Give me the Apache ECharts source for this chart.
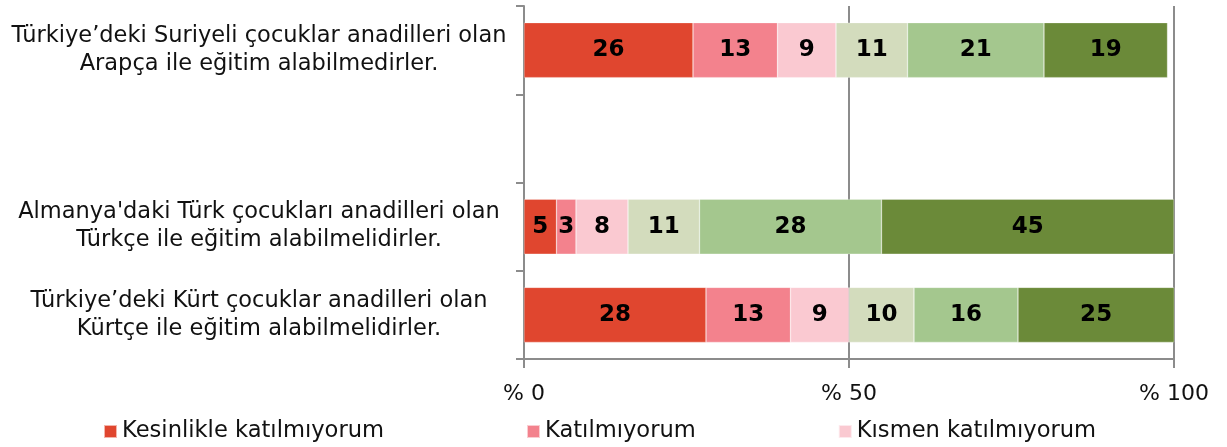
<!DOCTYPE html>
<html>
<head>
<meta charset="utf-8">
<script src="https://cdn.jsdelivr.net/npm/echarts@6/dist/echarts.min.js"></script>
<style>
  html, body { margin: 0; padding: 0; background: #fff; }
  #chart { width: 1227px; height: 447px; }
</style>
</head>
<body>
<div id="chart"></div>
<script>
// Statements (top to bottom); the empty slot leaves a gap between the first two bars
const categories = [
  'Türkiye\u2019deki Suriyeli çocuklar anadilleri olan\nArapça ile eğitim alabilmedirler.',
  '',
  'Almanya\'daki Türk çocukları anadilleri olan\nTürkçe ile eğitim alabilmelidirler.',
  'Türkiye\u2019deki Kürt çocuklar anadilleri olan\nKürtçe ile eğitim alabilmelidirler.'
];

// Response categories and their percentages per statement
const kesinlikleKatilmiyorum = [26, '-', 5, 28];
const katilmiyorum           = [13, '-', 3, 13];
const kismenKatilmiyorum     = [9, '-', 8, 9];
const kismenKatiliyorum      = [11, '-', 11, 10];
const katiliyorum            = [21, '-', 28, 16];
const kesinlikleKatiliyorum  = [19, '-', 45, 25];

const seriesNames = [
  'Kesinlikle katılmıyorum',
  'Katılmıyorum',
  'Kısmen katılmıyorum',
  'Kısmen katılıyorum',
  'Katılıyorum',
  'Kesinlikle katılıyorum'
];
const seriesValues = [
  kesinlikleKatilmiyorum, katilmiyorum, kismenKatilmiyorum,
  kismenKatiliyorum, katiliyorum, kesinlikleKatiliyorum
];
const legendShown = ['Kesinlikle katılmıyorum', 'Katılmıyorum', 'Kısmen katılmıyorum'];
const xTicks = [0, 50, 100];

const colors = ['#E0462F', '#F3828D', '#FAC9D1', '#D3DCBD', '#A4C78E', '#6B8A39'];
const axisGray = '#8C8C8C';
const textFont = 'DejaVu Sans';

const chart = echarts.init(document.getElementById('chart'), null, { renderer: 'canvas' });

chart.setOption({
  animation: false,
  backgroundColor: '#ffffff',
  color: colors,
  grid: { left: 524, right: 53, top: 6, bottom: 88, containLabel: false },
  legend: {
    data: legendShown,
    left: 103,
    top: 420,
    padding: 0,
    icon: 'rect',
    itemWidth: 13,
    itemHeight: 13,
    itemGap: 142,
    textStyle: { fontFamily: textFont, fontSize: 22.6, color: '#111' },
    selectedMode: false
  },
  xAxis: {
    type: 'value',
    min: 0,
    max: 100,
    interval: 50,
    axisLine: { show: true, lineStyle: { color: axisGray, width: 2 } },
    axisTick: { show: true, length: 9, lineStyle: { color: axisGray, width: 2 } },
    splitLine: { show: true, lineStyle: { color: axisGray, width: 2 } },
    axisLabel: {
      formatter: v => xTicks.includes(v) ? '% ' + v : '',
      fontFamily: textFont,
      fontSize: 22,
      color: '#111',
      margin: 24
    }
  },
  yAxis: {
    type: 'category',
    inverse: true,
    data: categories,
    axisLine: { show: true, lineStyle: { color: axisGray, width: 2 } },
    axisTick: { show: true, length: 8, alignWithLabel: false, lineStyle: { color: axisGray, width: 2 } },
    splitLine: { show: false },
    axisLabel: {
      align: 'center',
      margin: 265,
      fontFamily: textFont,
      fontSize: 22.5,
      lineHeight: 28,
      color: '#111',
      padding: [4, 0, 0, 0]
    }
  },
  series: seriesNames.map((name, i) => ({
    name,
    type: 'bar',
    stack: 'total',
    barWidth: 55,
    data: seriesValues[i],
    itemStyle: { color: colors[i], borderColor: 'rgba(255,255,255,0.6)', borderWidth: 0.5 },
    label: {
      show: true,
      position: 'inside',
      color: '#000',
      fontFamily: 'DejaVu Sans',
      fontWeight: 'bold',
      fontSize: 23
    }
  }))
});
</script>
</body>
</html>
